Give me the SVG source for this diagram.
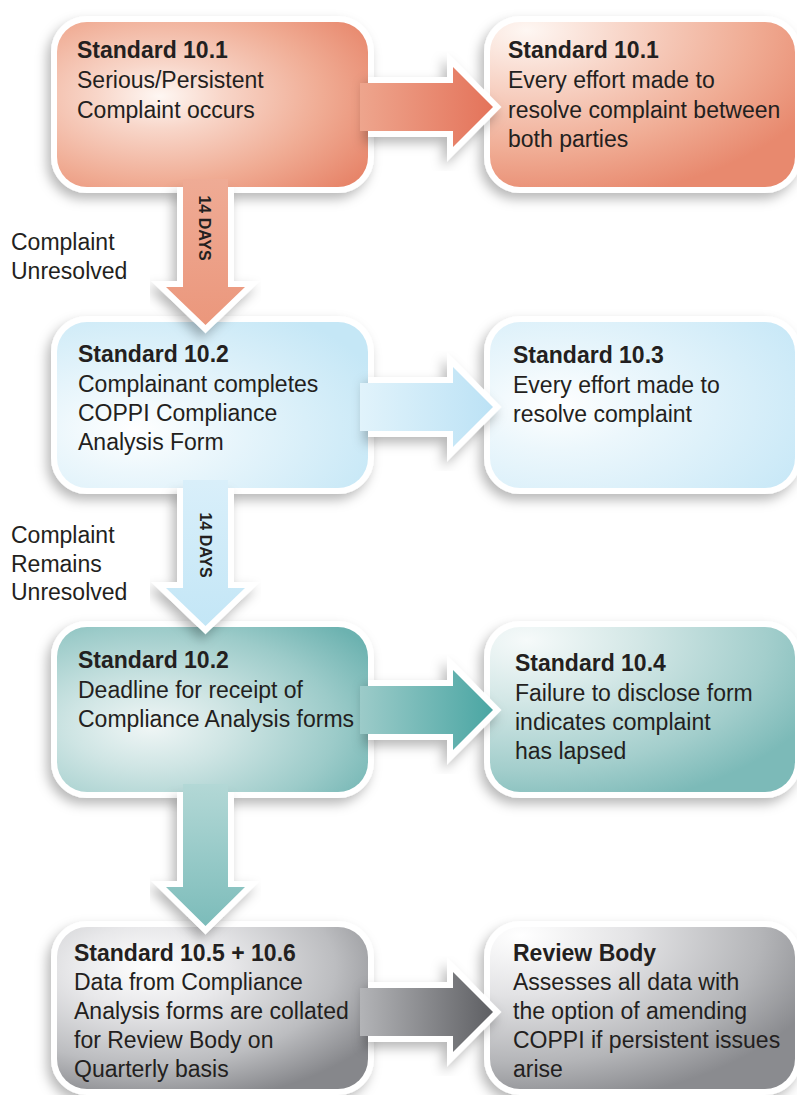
<svg xmlns="http://www.w3.org/2000/svg" width="797" height="1095" viewBox="0 0 797 1095">
<style>
.t{font-family:"Liberation Sans",Arial,sans-serif;font-size:23px;fill:#231f20}
.b{font-weight:bold}
.d{font-family:"Liberation Sans",Arial,sans-serif;font-size:16px;font-weight:bold;fill:#231f20}
.ol{fill:#fff;stroke:#fff;stroke-width:12;stroke-linejoin:miter;filter:url(#sh)}
.ao{fill:#fff;stroke:#fff;stroke-width:12;stroke-linejoin:miter;stroke-miterlimit:6;filter:url(#sh)}
</style>
<defs>
<filter id="sh" x="-20%" y="-20%" width="140%" height="150%">
<feDropShadow dx="-4" dy="6" stdDeviation="6" flood-color="#000" flood-opacity="0.28"/>
</filter>
<radialGradient id="g1" cx="0.33" cy="0.45" r="0.8">
<stop offset="0" stop-color="#fef7f3"/><stop offset="0.25" stop-color="#f8d6c9"/><stop offset="0.65" stop-color="#f0ac94"/><stop offset="1" stop-color="#e7856a"/></radialGradient>
<radialGradient id="g2" cx="0.12" cy="0.05" r="1.05">
<stop offset="0" stop-color="#fef7f3"/><stop offset="0.3" stop-color="#f8d6c9"/><stop offset="0.7" stop-color="#f0ac94"/><stop offset="1" stop-color="#e8896e"/></radialGradient>
<radialGradient id="g3" cx="0.25" cy="0.65" r="0.85">
<stop offset="0" stop-color="#ffffff"/><stop offset="0.3" stop-color="#ecf7fc"/><stop offset="1" stop-color="#c5e7f6"/></radialGradient>
<radialGradient id="g4" cx="0.22" cy="0.5" r="0.9">
<stop offset="0" stop-color="#ffffff"/><stop offset="0.3" stop-color="#ecf7fc"/><stop offset="1" stop-color="#c8e8f7"/></radialGradient>
<radialGradient id="g5" cx="0.3" cy="0.6" r="0.85">
<stop offset="0" stop-color="#f0f6f6"/><stop offset="0.3" stop-color="#cfe5e4"/><stop offset="0.7" stop-color="#9ccbc9"/><stop offset="1" stop-color="#6cb2b0"/></radialGradient>
<radialGradient id="g6" cx="0.12" cy="0.08" r="1.05">
<stop offset="0" stop-color="#f6fafa"/><stop offset="0.35" stop-color="#d3e7e6"/><stop offset="0.75" stop-color="#a3cecc"/><stop offset="1" stop-color="#7cbab8"/></radialGradient>
<radialGradient id="g7" cx="0.3" cy="0.25" r="0.85">
<stop offset="0" stop-color="#ffffff"/><stop offset="0.3" stop-color="#e8e8ea"/><stop offset="0.7" stop-color="#bcbdc0"/><stop offset="1" stop-color="#86878b"/></radialGradient>
<radialGradient id="g8" cx="0.1" cy="0.05" r="1.05">
<stop offset="0" stop-color="#ffffff"/><stop offset="0.35" stop-color="#e3e3e5"/><stop offset="0.75" stop-color="#b4b5b8"/><stop offset="1" stop-color="#8a8b8f"/></radialGradient>
<linearGradient id="a1r" x1="0" y1="0" x2="1" y2="0"><stop offset="0" stop-color="#eea58d"/><stop offset="1" stop-color="#e4735a"/></linearGradient>
<linearGradient id="a1d" x1="0" y1="0" x2="0" y2="1"><stop offset="0" stop-color="#efab95"/><stop offset="1" stop-color="#eb977c"/></linearGradient>
<linearGradient id="a2r" x1="0" y1="0" x2="1" y2="0"><stop offset="0" stop-color="#e1f3fb"/><stop offset="1" stop-color="#bce2f5"/></linearGradient>
<linearGradient id="a2d" x1="0" y1="0" x2="0" y2="1"><stop offset="0" stop-color="#d9effa"/><stop offset="1" stop-color="#c3e6f6"/></linearGradient>
<linearGradient id="a3r" x1="0" y1="0" x2="1" y2="0"><stop offset="0" stop-color="#9ccbc9"/><stop offset="1" stop-color="#4aa6a3"/></linearGradient>
<linearGradient id="a3d" x1="0" y1="0" x2="0" y2="1"><stop offset="0" stop-color="#b3d8d6"/><stop offset="1" stop-color="#7cbcba"/></linearGradient>
<linearGradient id="a4r" x1="0" y1="0" x2="1" y2="0"><stop offset="0" stop-color="#b3b4b7"/><stop offset="1" stop-color="#5e5f63"/></linearGradient>
</defs>
<rect width="797" height="1095" fill="#fff"/>

<g id="n2">
<rect class="ol" x="490" y="22" width="305" height="165" rx="30"/>
<rect x="490" y="22" width="305" height="165" rx="30" fill="url(#g2)"/>
<text class="t"><tspan class="b" x="508" y="58">Standard 10.1</tspan><tspan x="508" y="88">Every effort made to</tspan><tspan x="508" y="118">resolve complaint between</tspan><tspan x="508" y="147">both parties</tspan></text>
</g>
<g id="n4">
<rect class="ol" x="490" y="322" width="305" height="166" rx="30"/>
<rect x="490" y="322" width="305" height="166" rx="30" fill="url(#g4)"/>
<text class="t"><tspan class="b" x="513" y="363">Standard 10.3</tspan><tspan x="513" y="393">Every effort made to</tspan><tspan x="513" y="422">resolve complaint</tspan></text>
</g>
<g id="n6">
<rect class="ol" x="490" y="627" width="305" height="165" rx="30"/>
<rect x="490" y="627" width="305" height="165" rx="30" fill="url(#g6)"/>
<text class="t"><tspan class="b" x="515" y="671">Standard 10.4</tspan><tspan x="515" y="701">Failure to disclose form</tspan><tspan x="515" y="730">indicates complaint</tspan><tspan x="515" y="759">has lapsed</tspan></text>
</g>
<g id="n8">
<rect class="ol" x="490" y="927" width="305" height="162" rx="30"/>
<rect x="490" y="927" width="305" height="162" rx="30" fill="url(#g8)"/>
<text class="t"><tspan class="b" x="513" y="961">Review Body</tspan><tspan x="513" y="990">Assesses all data with</tspan><tspan x="513" y="1019">the option of amending</tspan><tspan x="513" y="1048">COPPI if persistent issues</tspan><tspan x="513" y="1077">arise</tspan></text>
</g>
<g id="n7">
<rect class="ol" x="57" y="927" width="311" height="162" rx="30"/>
<rect x="57" y="927" width="311" height="162" rx="30" fill="url(#g7)"/>
<text class="t"><tspan class="b" x="74" y="961">Standard 10.5 + 10.6</tspan><tspan x="74" y="990">Data from Compliance</tspan><tspan x="74" y="1019">Analysis forms are collated</tspan><tspan x="74" y="1048">for Review Body on</tspan><tspan x="74" y="1077">Quarterly basis</tspan></text>
</g>
<g id="n5">
<rect class="ol" x="57" y="627" width="311" height="165" rx="30"/>
<rect x="57" y="627" width="311" height="165" rx="30" fill="url(#g5)"/>
<text class="t"><tspan class="b" x="78" y="668">Standard 10.2</tspan><tspan x="78" y="698">Deadline for receipt of</tspan><tspan x="78" y="727">Compliance Analysis forms</tspan></text>
</g>
<g id="n3">
<rect class="ol" x="57" y="322" width="311" height="166" rx="30"/>
<rect x="57" y="322" width="311" height="166" rx="30" fill="url(#g3)"/>
<text class="t"><tspan class="b" x="78" y="362">Standard 10.2</tspan><tspan x="78" y="392">Complainant completes</tspan><tspan x="78" y="421">COPPI Compliance</tspan><tspan x="78" y="450">Analysis Form</tspan></text>
</g>
<g id="n1">
<rect class="ol" x="57" y="22" width="311" height="165" rx="30"/>
<rect x="57" y="22" width="311" height="165" rx="30" fill="url(#g1)"/>
<text class="t"><tspan class="b" x="77" y="58">Standard 10.1</tspan><tspan x="77" y="88">Serious/Persistent</tspan><tspan x="77" y="118">Complaint occurs</tspan></text>
</g>

<g id="labels">
<text class="t"><tspan x="11" y="250">Complaint</tspan><tspan x="11" y="279">Unresolved</tspan></text>
<text class="t"><tspan x="11" y="543">Complaint</tspan><tspan x="11" y="572">Remains</tspan><tspan x="11" y="600">Unresolved</tspan></text>
</g>

<g id="connectors">
<path class="ao" d="M368,83 L453,83 L453,67 L493,107 L453,147 L453,131 L368,131"/>
<path d="M360,83 L453,83 L453,67 L493,107 L453,147 L453,131 L360,131 Z" fill="url(#a1r)"/>
<path class="ao" d="M228,187 L228,287 L245,287 L205.5,325 L166,287 L183,287 L183,187"/>
<path d="M183,179 L228,179 L228,287 L245,287 L205.5,325 L166,287 L183,287 Z" fill="url(#a1d)"/>
<text class="d" transform="translate(199,228) rotate(90)" text-anchor="middle">14 DAYS</text>
<path class="ao" d="M368,383 L453,383 L453,367 L493,407 L453,447 L453,431 L368,431"/>
<path d="M360,383 L453,383 L453,367 L493,407 L453,447 L453,431 L360,431 Z" fill="url(#a2r)"/>
<path class="ao" d="M228,488 L228,588 L245,588 L205.5,626 L166,588 L183,588 L183,488"/>
<path d="M183,480 L228,480 L228,588 L245,588 L205.5,626 L166,588 L183,588 Z" fill="url(#a2d)"/>
<text class="d" transform="translate(200,545) rotate(90)" text-anchor="middle">14 DAYS</text>
<path class="ao" d="M368,686 L453,686 L453,670 L493,710 L453,750 L453,734 L368,734"/>
<path d="M360,686 L453,686 L453,670 L493,710 L453,750 L453,734 L360,734 Z" fill="url(#a3r)"/>
<path class="ao" d="M228,792 L228,887 L245,887 L205.5,926 L166,887 L183,887 L183,792"/>
<path d="M183,784 L228,784 L228,887 L245,887 L205.5,926 L166,887 L183,887 Z" fill="url(#a3d)"/>
<path class="ao" d="M368,988 L453,988 L453,972 L493,1012 L453,1052 L453,1036 L368,1036"/>
<path d="M360,988 L453,988 L453,972 L493,1012 L453,1052 L453,1036 L360,1036 Z" fill="url(#a4r)"/>
</g>
</svg>
